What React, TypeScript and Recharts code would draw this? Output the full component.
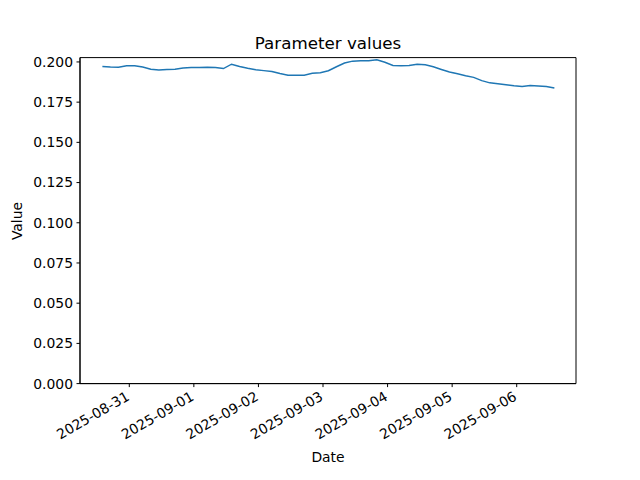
import React from "react";
import { LineChart, Line, XAxis, YAxis, ReferenceArea } from "recharts";

const times: string[] = [
  "2025-08-30T14:00", "2025-08-30T17:00", "2025-08-30T20:00", "2025-08-30T23:00",
  "2025-08-31T02:00", "2025-08-31T05:00", "2025-08-31T08:00", "2025-08-31T11:00",
  "2025-08-31T14:00", "2025-08-31T17:00", "2025-08-31T20:00", "2025-08-31T23:00",
  "2025-09-01T02:00", "2025-09-01T05:00", "2025-09-01T08:00", "2025-09-01T11:00",
  "2025-09-01T14:00", "2025-09-01T17:00", "2025-09-01T20:00", "2025-09-01T23:00",
  "2025-09-02T02:00", "2025-09-02T05:00", "2025-09-02T08:00", "2025-09-02T11:00",
  "2025-09-02T14:00", "2025-09-02T17:00", "2025-09-02T20:00", "2025-09-02T23:00",
  "2025-09-03T02:00", "2025-09-03T05:00", "2025-09-03T08:00", "2025-09-03T11:00",
  "2025-09-03T14:00", "2025-09-03T17:00", "2025-09-03T20:00", "2025-09-03T23:00",
  "2025-09-04T02:00", "2025-09-04T05:00", "2025-09-04T08:00", "2025-09-04T11:00",
  "2025-09-04T14:00", "2025-09-04T17:00", "2025-09-04T20:00", "2025-09-04T23:00",
  "2025-09-05T02:00", "2025-09-05T05:00", "2025-09-05T08:00", "2025-09-05T11:00",
  "2025-09-05T14:00", "2025-09-05T17:00", "2025-09-05T20:00", "2025-09-05T23:00",
  "2025-09-06T02:00", "2025-09-06T05:00", "2025-09-06T08:00", "2025-09-06T11:00",
  "2025-09-06T14:00",
];

const values: number[] = [
  0.1972, 0.1968, 0.1967, 0.1976,
  0.1977, 0.1968, 0.1954, 0.1950,
  0.1953, 0.1955, 0.1963, 0.1965,
  0.1966, 0.1967, 0.1966, 0.1959,
  0.1986, 0.1972, 0.1961, 0.1952,
  0.1946, 0.1940, 0.1928, 0.1918,
  0.1917, 0.1918, 0.1929, 0.1933,
  0.1945, 0.1970, 0.1993, 0.2005,
  0.2008, 0.2008, 0.2014, 0.1998,
  0.1978, 0.1976, 0.1978, 0.1985,
  0.1983, 0.1970, 0.1953, 0.1937,
  0.1927, 0.1914, 0.1904, 0.1884,
  0.1870, 0.1865, 0.1858, 0.1852,
  0.1848, 0.1854, 0.1851, 0.1847,
  0.1838,
];

const xTickLabels: string[] = [
  "2025-08-31", "2025-09-01", "2025-09-02", "2025-09-03",
  "2025-09-04", "2025-09-05", "2025-09-06",
];

const yTicks: number[] = [0, 0.025, 0.05, 0.075, 0.1, 0.125, 0.15, 0.175, 0.2];

const title = "Parameter values";
const xLabel = "Date";
const yLabel = "Value";

const toMs = (s: string) => Date.parse(s + ":00Z");
const data = times.map((t, i) => ({ t: toMs(t), value: values[i] }));
const xTicks = xTickLabels.map((d) => Date.parse(d + "T00:00:00Z"));
const xDomain: [number, number] = [toMs("2025-08-30T05:41"), toMs("2025-09-06T22:02")];
const yDomain: [number, number] = [0, 0.2027];

const FONT = "'DejaVu Sans', sans-serif";
const FS = 13.9;

const fmtDate = (ms: number) => {
  const d = new Date(ms);
  const mm = String(d.getUTCMonth() + 1).padStart(2, "0");
  const dd = String(d.getUTCDate()).padStart(2, "0");
  return `${d.getUTCFullYear()}-${mm}-${dd}`;
};

const XTick = (props: any) => {
  const { x, y, payload } = props;
  return (
    <g transform={`translate(${x - 4},${y})`}>
      <text
        transform="rotate(-30)"
        textAnchor="end"
        dy="0.72em"
        fontFamily={FONT}
        fontSize={FS}
        fill="#000"
      >
        {fmtDate(payload.value)}
      </text>
    </g>
  );
};

export default function App() {
  return (
    <div style={{ position: "absolute", left: 0, top: 0, width: 640, height: 480, background: "#fff" }}>
      <LineChart
        width={640}
        height={480}
        data={data}
        margin={{ top: 57.6, right: 64, left: 0, bottom: 0 }}
      >
        <XAxis
          dataKey="t"
          type="number"
          domain={xDomain}
          allowDataOverflow
          ticks={xTicks}
          interval={0}
          tick={<XTick />}
          tickSize={3.5}
          tickMargin={3.5}
          height={96.4}
          stroke="#000"
          axisLine={{ stroke: "#000" }}
          tickLine={{ stroke: "#000" }}
        />
        <YAxis
          type="number"
          domain={yDomain}
          allowDataOverflow
          ticks={yTicks}
          interval={0}
          tickFormatter={(v: number) => v.toFixed(3)}
          width={80}
          tickSize={3.5}
          tickMargin={3.5}
          tick={{ fontFamily: FONT, fontSize: FS, fill: "#000" }}
          axisLine={{ stroke: "#000" }}
          tickLine={{ stroke: "#000" }}
        />
        <ReferenceArea
          x1={xDomain[0]}
          x2={xDomain[1]}
          y1={yDomain[0]}
          y2={yDomain[1]}
          fill="none"
          stroke="#000"
          strokeWidth={1}
          fillOpacity={0}
          ifOverflow="visible"
        />
        <Line
          type="linear"
          dataKey="value"
          stroke="#1f77b4"
          strokeWidth={1.5}
          dot={false}
          isAnimationActive={false}
        />
      </LineChart>
      <svg
        width={640}
        height={480}
        style={{ position: "absolute", left: 0, top: 0, pointerEvents: "none" }}
      >
        <text x={328} y={49} textAnchor="middle" fontFamily={FONT} fontSize={16.7} fill="#000">
          {title}
        </text>
        <text x={328} y={462} textAnchor="middle" fontFamily={FONT} fontSize={FS} fill="#000">
          {xLabel}
        </text>
        <text
          transform="translate(22,221) rotate(-90)"
          textAnchor="middle"
          fontFamily={FONT}
          fontSize={FS}
          fill="#000"
        >
          {yLabel}
        </text>
      </svg>
    </div>
  );
}
